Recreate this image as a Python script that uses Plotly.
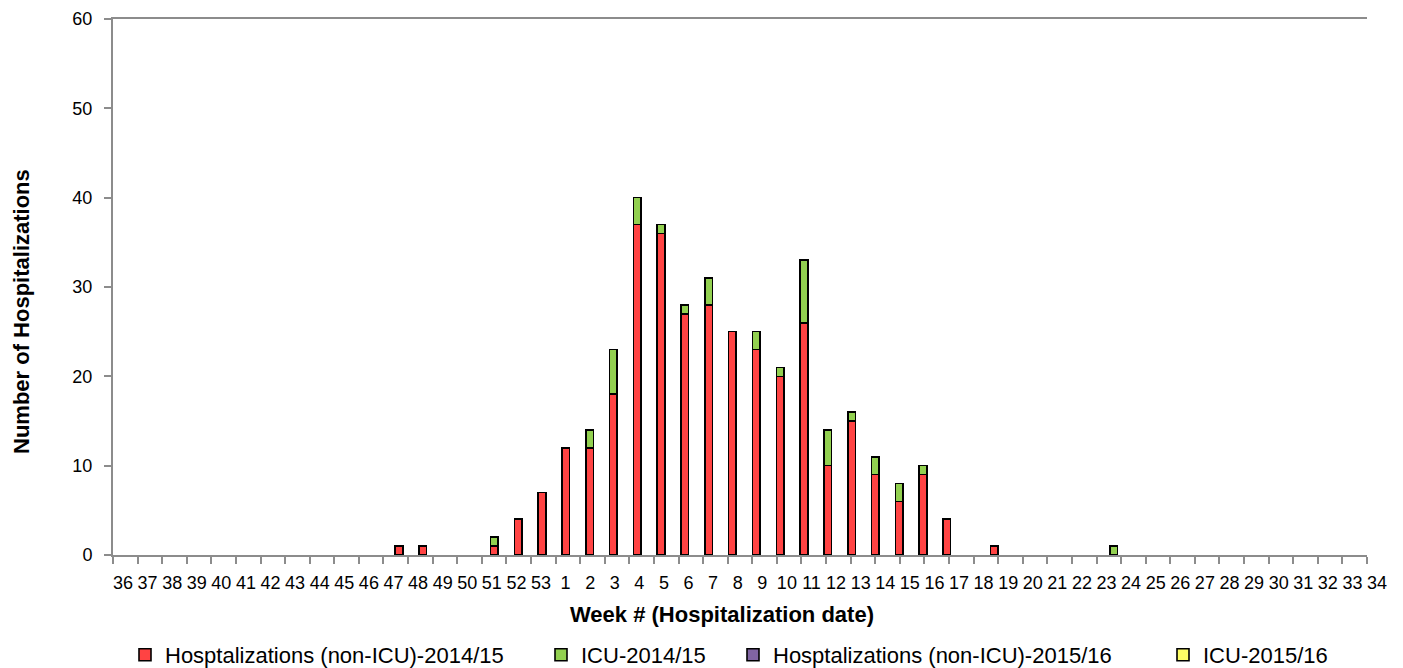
import plotly.graph_objects as go

weeks = [str(w) for w in range(36, 54)] + [str(w) for w in range(1, 35)]

non_icu_1415 = [0, 0, 0, 0, 0, 0, 0, 0, 0, 0, 0, 1, 1, 0, 0, 1, 4, 7,
                12, 12, 18, 37, 36, 27, 28, 25, 23, 20, 26, 10, 15, 9, 6, 9, 4, 0, 1,
                0, 0, 0, 0, 0, 0, 0, 0, 0, 0, 0, 0, 0, 0, 0]
icu_1415 = [0, 0, 0, 0, 0, 0, 0, 0, 0, 0, 0, 0, 0, 0, 0, 1, 0, 0,
            0, 2, 5, 3, 1, 1, 3, 0, 2, 1, 7, 4, 1, 2, 2, 1, 0, 0, 0,
            0, 0, 0, 0, 1, 0, 0, 0, 0, 0, 0, 0, 0, 0, 0]
non_icu_1516 = [0] * len(weeks)
icu_1516 = [0] * len(weeks)

series_names = ["Hosptalizations (non-ICU)-2014/15", "ICU-2014/15",
                "Hosptalizations (non-ICU)-2015/16", "ICU-2015/16"]
colors = ["#FF4343", "#92D050", "#8064A2", "#FFFF66"]

FONT = "Liberation Sans, Arial, sans-serif"
AXIS_GRAY = "#8c8c8c"

W, H = 1403, 668
plot_left, plot_right, plot_top, plot_bottom = 113, 1367, 19, 555
pw = plot_right - plot_left
ph = plot_bottom - plot_top


def nz(vals):
    return [v if v else None for v in vals]


fig = go.Figure()
line = dict(color="black", width=1.6)

all_series = [non_icu_1415, icu_1415, non_icu_1516, icu_1516]
legend_ids = ["legend", "legend2", "legend3", "legend4"]
# 2014/15 season on the bar axis (x2); 2015/16 season (no data yet) on the week axis (x)
axes_for = ["x2", "x2", "x", "x"]
for vals, name, col, lid, ax in zip(all_series, series_names, colors, legend_ids, axes_for):
    xs = weeks if ax == "x2" else list(range(len(weeks)))
    fig.add_trace(go.Bar(x=xs, y=nz(vals), name=name,
                         marker=dict(color=col, line=line), width=0.32,
                         xaxis=ax, yaxis="y", legend=lid))

# legend square centres (px) in the reference
legend_centres = [147, 563, 755, 1185]
legend_y = (plot_bottom - 655) / ph
legend_layouts = {}
for lid, cx in zip(legend_ids, legend_centres):
    legend_layouts[lid] = dict(
        orientation="h", x=(cx - 22 - plot_left) / pw, xanchor="left",
        y=legend_y, yanchor="middle", font=dict(size=22, family=FONT),
        itemwidth=30, bgcolor="rgba(0,0,0,0)", borderwidth=0)

fig.update_layout(
    width=W, height=H,
    margin=dict(l=plot_left, r=W - plot_right, t=plot_top, b=H - plot_bottom,
                pad=0, autoexpand=False),
    paper_bgcolor="white", plot_bgcolor="white",
    barmode="stack",
    font=dict(family=FONT, color="black"),
    showlegend=True,
    xaxis=dict(
        range=[0, len(weeks) - 1],
        tickmode="array", tickvals=list(range(len(weeks))), ticktext=weeks,
        ticks="outside", ticklen=7, tickwidth=2, tickcolor=AXIS_GRAY,
        showline=True, linecolor=AXIS_GRAY, linewidth=2, mirror=True,
        showgrid=False, zeroline=False,
        tickfont=dict(size=18, family=FONT), ticklabelshift=10, ticklabelstandoff=3,
        fixedrange=True,
    ),
    xaxis2=dict(
        type="category", categoryorder="array", categoryarray=weeks,
        overlaying="x", range=[-1.008, 51.64], visible=False, fixedrange=True,
    ),
    yaxis=dict(
        range=[0, 60], dtick=10, tick0=0,
        ticks="outside", ticklen=7, tickwidth=2, tickcolor=AXIS_GRAY,
        showline=True, linecolor=AXIS_GRAY, linewidth=2,
        showgrid=False, zeroline=False,
        tickfont=dict(size=18, family=FONT), ticklabelstandoff=8,
        fixedrange=True,
    ),
    annotations=[
        dict(text="<b>Week # (Hospitalization date)</b>", xref="paper", yref="paper",
             x=(722 - plot_left) / pw, y=(plot_bottom - 614) / ph,
             xanchor="center", yanchor="middle", showarrow=False,
             font=dict(size=22, family=FONT)),
        dict(text="<b>Number of Hospitalizations</b>", xref="paper", yref="paper",
             x=(22 - plot_left) / pw, y=(plot_bottom - 312) / ph, textangle=-90,
             xanchor="center", yanchor="middle", showarrow=False,
             font=dict(size=22, family=FONT)),
    ],
    **legend_layouts,
)

fig.write_html("out.html", config={"displayModeBar": False},
               post_script="document.body.style.margin='0px';")
